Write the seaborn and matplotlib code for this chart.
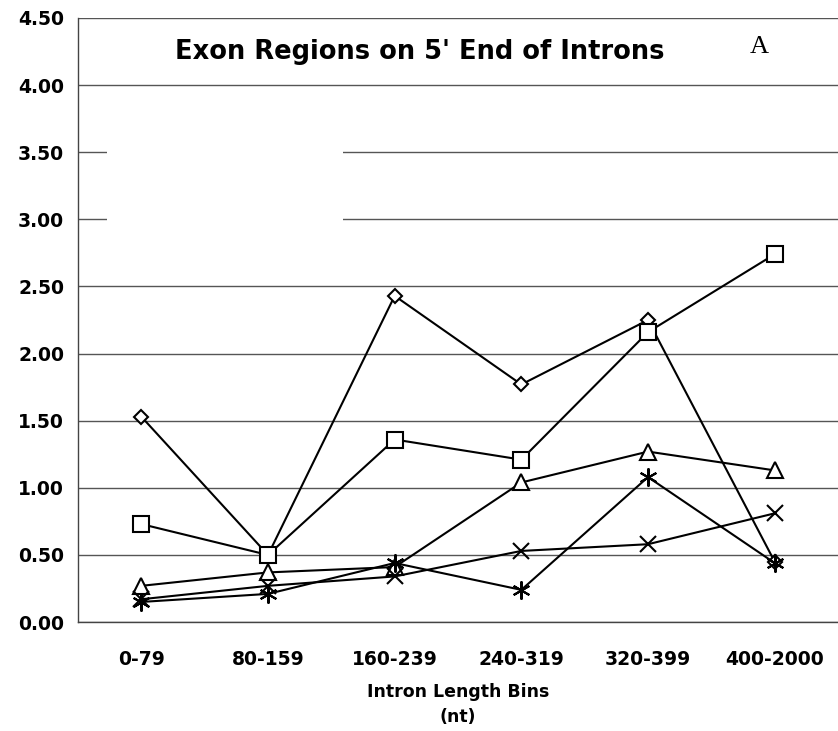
import numpy as np
import pandas as pd
import matplotlib
matplotlib.use('Agg')
import matplotlib.pyplot as plt
from matplotlib.patches import Rectangle
import seaborn as sns

# ===================== 数据 =====================
bins = ['0-79', '80-159', '160-239', '240-319', '320-399', '400-2000']

diamond_vals = [1.53, 0.50, 2.43, 1.77, 2.25, 0.45]
square_vals = [0.73, 0.50, 1.36, 1.21, 2.16, 2.74]
triangle_vals = [0.27, 0.37, 0.41, 1.04, 1.27, 1.13]
cross_vals = [0.17, 0.27, 0.34, 0.53, 0.58, 0.81]
star_vals = [0.15, 0.21, 0.44, 0.24, 1.08, 0.44]

series_names = ['Series 1', 'Series 2', 'Series 3', 'Series 4', 'Series 5']
y_ticks = [0.0, 0.5, 1.0, 1.5, 2.0, 2.5, 3.0, 3.5, 4.0, 4.5]

rows = []
for name, vals in zip(series_names, [diamond_vals, square_vals, triangle_vals, cross_vals, star_vals]):
    for b, v in zip(bins, vals):
        rows.append({'bin': b, 'value': v, 'series': name})
df = pd.DataFrame(rows)

# ===================== 绘图 =====================
sns.set_style('white')
plt.rcParams['font.family'] = ['DejaVu Sans']
plt.rcParams['text.color'] = 'black'
plt.rcParams['xtick.color'] = 'black'
plt.rcParams['ytick.color'] = 'black'
plt.rcParams['axes.labelcolor'] = 'black'

fig = plt.figure(figsize=(8.38, 7.31), dpi=100)
ax = fig.add_axes([0.0931, 0.149, 0.9069, 0.8264])

markers = {'Series 1': 'D', 'Series 2': 's', 'Series 3': '^',
           'Series 4': 'x', 'Series 5': (6, 2, 0)}
sizes = {'Series 1': 7, 'Series 2': 11, 'Series 3': 11, 'Series 4': 11, 'Series 5': 13}

for name in series_names:
    sub = df[df['series'] == name]
    sns.lineplot(data=sub, x='bin', y='value', ax=ax, color='black', lw=1.5,
                 marker=markers[name], markersize=sizes[name],
                 markerfacecolor='white', markeredgecolor='black',
                 markeredgewidth=1.5, zorder=3, legend=False)

ax.set_xlim(-0.5, 5.5)
ax.set_ylim(0, 4.5)
ax.set_yticks(y_ticks)
ax.set_yticklabels([f'{t:.2f}' for t in y_ticks], fontsize=13.5, fontweight='bold')
ax.set_xticks(range(len(bins)))
ax.set_xticklabels(bins, fontsize=13.5, fontweight='bold')
ax.set_xticks(np.arange(-0.5, 5.6, 1), minor=True)
ax.tick_params(axis='x', which='major', length=0, pad=20)
ax.tick_params(axis='x', which='minor', length=7, width=1, color='#444444', direction='out')
ax.tick_params(axis='y', length=7, width=1, color='#444444', direction='out', pad=3)

ax.grid(axis='y', color='#555555', lw=1)
ax.set_axisbelow(True)

for s in ['top', 'right']:
    ax.spines[s].set_visible(False)
for s in ['left', 'bottom']:
    ax.spines[s].set_color('#444444')
    ax.spines[s].set_linewidth(1)

# white box covering part of the gridlines
ax.add_patch(Rectangle((-0.27, 2.62), 1.86, 1.3, facecolor='white',
                       edgecolor='none', zorder=1))

ax.set_xlabel('Intron Length Bins\n(nt)', fontsize=12.5, fontweight='bold',
              labelpad=10, linespacing=1.5)
ax.set_ylabel('')

fig.text(420 / 838, 1 - 52 / 731, "Exon Regions on 5' End of Introns",
         ha='center', va='center', fontsize=18.5, fontweight='bold')
fig.text(759 / 838, 1 - 47 / 731, 'A', ha='center', va='center',
         fontsize=19, family='Liberation Serif')

plt.savefig('out.png', dpi=100)
plt.close()
